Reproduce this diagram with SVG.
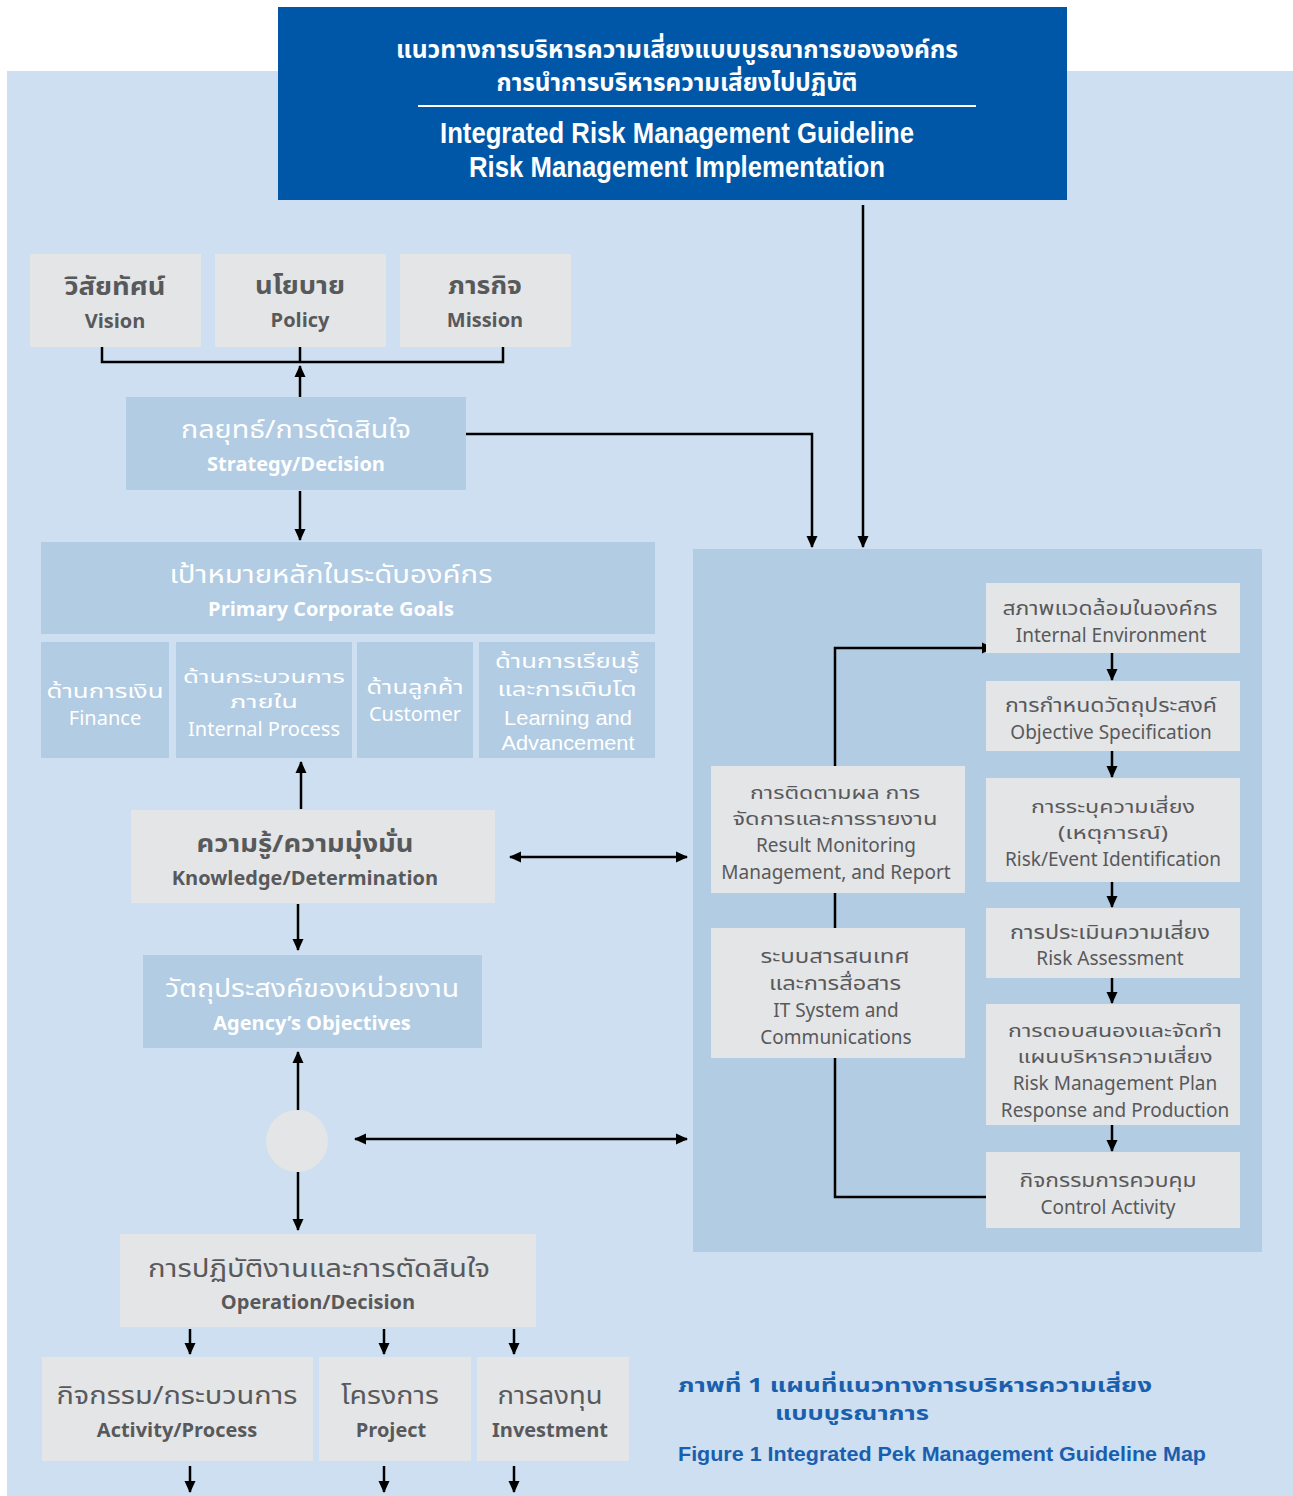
<svg xmlns="http://www.w3.org/2000/svg" width="1293" height="1496" viewBox="0 0 1293 1496">
<defs>
<marker id="ah" viewBox="0 0 12 12" refX="11" refY="6" markerWidth="12" markerHeight="12" markerUnits="userSpaceOnUse" orient="auto-start-reverse">
<path d="M0,0.5 L12,6 L0,11.5 Z" fill="#000"/>
</marker>
<style>
.gray{fill:#e4e5e7}
.blue{fill:#b2cce3}
.t{font-family:"Noto Sans Thai","Noto Sans","DejaVu Sans","Liberation Sans",sans-serif;text-anchor:middle}
.lib{font-family:"Liberation Sans",Arial,sans-serif}
.b{font-weight:bold}
.g{fill:#58595b}
.w{fill:#ffffff}
.s19{font-size:19px}
.th{font-size:19px}
.tt{font-size:17.5px}
.ln{stroke:#000;stroke-width:2.5;fill:none}
.arr{stroke:#000;stroke-width:2.5;fill:none;marker-end:url(#ah)}
.darr{stroke:#000;stroke-width:2.5;fill:none;marker-end:url(#ah);marker-start:url(#ah)}
</style>
</defs>
<rect x="0" y="0" width="1293" height="1496" fill="#ffffff"/>
<rect x="7" y="71" width="1286" height="1425" fill="#cddff0"/>

<g id="header">
<rect x="278" y="7" width="789" height="193" fill="#0057a8"/>
<text class="t b w" x="677" y="58" font-size="24" textLength="562" lengthAdjust="spacingAndGlyphs">แนวทางการบริหารความเสี่ยงแบบบูรณาการขององค์กร</text>
<text class="t b w" x="677" y="91" font-size="24" textLength="361" lengthAdjust="spacingAndGlyphs">การนำการบริหารความเสี่ยงไปปฏิบัติ</text>
<line x1="418" y1="106" x2="976" y2="106" stroke="#ffffff" stroke-width="2"/>
<text class="t lib b w" x="677" y="143" font-size="29" textLength="474" lengthAdjust="spacingAndGlyphs">Integrated Risk Management Guideline</text>
<text class="t lib b w" x="677" y="177" font-size="29" textLength="416" lengthAdjust="spacingAndGlyphs">Risk Management Implementation</text>
</g>

<g id="panel">
<rect x="693" y="549" width="569" height="703" fill="#b2cce3"/>
</g>

<g id="connectors">
<polyline class="ln" points="102,347 102,362 503,362 503,347"/>
<line class="ln" x1="300" y1="347" x2="300" y2="362"/>
<line class="arr" x1="300" y1="397" x2="300" y2="366"/>
<polyline class="arr" points="466,434 812,434 812,547"/>
<line class="arr" x1="863" y1="205" x2="863" y2="547"/>
<line class="arr" x1="300" y1="491" x2="300" y2="540"/>
<line class="arr" x1="301" y1="809" x2="301" y2="762"/>
<line class="darr" x1="510" y1="857" x2="687" y2="857"/>
<line class="arr" x1="298" y1="904" x2="298" y2="950"/>
<line class="arr" x1="298" y1="1110" x2="298" y2="1052"/>
<line class="darr" x1="355" y1="1139" x2="687" y2="1139"/>
<line class="arr" x1="298" y1="1172" x2="298" y2="1230"/>
<line class="arr" x1="190" y1="1329" x2="190" y2="1354"/>
<line class="arr" x1="384" y1="1329" x2="384" y2="1354"/>
<line class="arr" x1="514" y1="1329" x2="514" y2="1354"/>
<line class="arr" x1="190" y1="1466" x2="190" y2="1492"/>
<line class="arr" x1="384" y1="1466" x2="384" y2="1492"/>
<line class="arr" x1="514" y1="1466" x2="514" y2="1492"/>
<polyline class="arr" points="986,1197 835,1197 835,648 993,648"/>
<line class="arr" x1="1112" y1="653" x2="1112" y2="680"/>
<line class="arr" x1="1112" y1="751" x2="1112" y2="777"/>
<line class="arr" x1="1112" y1="882" x2="1112" y2="907"/>
<line class="arr" x1="1112" y1="978" x2="1112" y2="1003"/>
<line class="arr" x1="1112" y1="1125" x2="1112" y2="1151"/>
</g>

<g id="vision">
<rect class="gray" x="30" y="254" width="171" height="93"/>
<text class="t b g" x="115" y="295" font-size="24" textLength="101" lengthAdjust="spacingAndGlyphs">วิสัยทัศน์</text>
<text class="t b g" x="115" y="328" font-size="20">Vision</text>
</g>
<g id="policy">
<rect class="gray" x="215" y="254" width="171" height="93"/>
<text class="t b g" x="300" y="294" font-size="24" textLength="90" lengthAdjust="spacingAndGlyphs">นโยบาย</text>
<text class="t b g" x="300" y="327" font-size="20">Policy</text>
</g>
<g id="mission">
<rect class="gray" x="400" y="254" width="171" height="93"/>
<text class="t b g" x="485" y="294" font-size="24" textLength="74" lengthAdjust="spacingAndGlyphs">ภารกิจ</text>
<text class="t b g" x="485" y="327" font-size="20">Mission</text>
</g>

<g id="strategy">
<rect class="blue" x="126" y="397" width="340" height="93"/>
<text class="t w" x="296" y="438" font-size="25" textLength="230" lengthAdjust="spacingAndGlyphs">กลยุทธ์/การตัดสินใจ</text>
<text class="t b w" x="296" y="471" font-size="20">Strategy/Decision</text>
</g>

<g id="goals">
<rect class="blue" x="41" y="542" width="614" height="92"/>
<text class="t w" x="331" y="583" font-size="25" textLength="323" lengthAdjust="spacingAndGlyphs">เป้าหมายหลักในระดับองค์กร</text>
<text class="t b w" x="331" y="616" font-size="20">Primary Corporate Goals</text>
</g>
<g id="finance">
<rect class="blue" x="41" y="642" width="128" height="116"/>
<text class="t w" x="105" y="698" font-size="20" textLength="117" lengthAdjust="spacingAndGlyphs">ด้านการเงิน</text>
<text class="t w" x="105" y="725" font-size="20">Finance</text>
</g>
<g id="internal-process">
<rect class="blue" x="176" y="642" width="176" height="116"/>
<text class="t w tt" x="264" y="683" textLength="162" lengthAdjust="spacingAndGlyphs">ด้านกระบวนการ</text>
<text class="t w tt" x="264" y="708" textLength="68" lengthAdjust="spacingAndGlyphs">ภายใน</text>
<text class="t w" x="264" y="736" font-size="20">Internal Process</text>
</g>
<g id="customer">
<rect class="blue" x="357" y="642" width="116" height="116"/>
<text class="t w" x="415" y="694" font-size="20" textLength="97" lengthAdjust="spacingAndGlyphs">ด้านลูกค้า</text>
<text class="t w" x="415" y="721" font-size="20">Customer</text>
</g>
<g id="learning">
<rect class="blue" x="479" y="642" width="176" height="116"/>
<text class="t w" x="567" y="668" font-size="19" textLength="144" lengthAdjust="spacingAndGlyphs">ด้านการเรียนรู้</text>
<text class="t w" x="567" y="696" font-size="19" textLength="139" lengthAdjust="spacingAndGlyphs">และการเติบโต</text>
<text class="t lib w" x="568" y="725" font-size="20" textLength="128" lengthAdjust="spacingAndGlyphs">Learning and</text>
<text class="t lib w" x="568" y="750" font-size="20" textLength="133" lengthAdjust="spacingAndGlyphs">Advancement</text>
</g>

<g id="knowledge">
<rect class="gray" x="131" y="810" width="364" height="93"/>
<text class="t b g" x="305" y="852" font-size="24" textLength="217" lengthAdjust="spacingAndGlyphs">ความรู้/ความมุ่งมั่น</text>
<text class="t b g" x="305" y="885" font-size="20">Knowledge/Determination</text>
</g>

<g id="agency">
<rect class="blue" x="143" y="955" width="339" height="93"/>
<text class="t w" x="312" y="997" font-size="25" textLength="294" lengthAdjust="spacingAndGlyphs">วัตถุประสงค์ของหน่วยงาน</text>
<text class="t b w" x="312" y="1030" font-size="20">Agency’s Objectives</text>
</g>

<g id="circle">
<circle cx="297" cy="1141" r="31" fill="#e4e5e7"/>
</g>

<g id="operation">
<rect class="gray" x="120" y="1234" width="416" height="93"/>
<text class="t g" x="319" y="1277" font-size="25" textLength="342" lengthAdjust="spacingAndGlyphs">การปฏิบัติงานและการตัดสินใจ</text>
<text class="t b g" x="318" y="1309" font-size="20">Operation/Decision</text>
</g>

<g id="activity">
<rect class="gray" x="42" y="1357" width="271" height="104"/>
<text class="t g" x="177" y="1404" font-size="25" textLength="241" lengthAdjust="spacingAndGlyphs">กิจกรรม/กระบวนการ</text>
<text class="t b g" x="177" y="1437" font-size="20">Activity/Process</text>
</g>
<g id="project">
<rect class="gray" x="319" y="1357" width="152" height="104"/>
<text class="t g" x="390" y="1404" font-size="25" textLength="98" lengthAdjust="spacingAndGlyphs">โครงการ</text>
<text class="t b g" x="391" y="1437" font-size="20">Project</text>
</g>
<g id="investment">
<rect class="gray" x="477" y="1357" width="152" height="104"/>
<text class="t g" x="550" y="1404" font-size="25" textLength="105" lengthAdjust="spacingAndGlyphs">การลงทุน</text>
<text class="t b g" x="550" y="1437" font-size="20">Investment</text>
</g>

<g id="result-monitoring">
<rect class="gray" x="711" y="766" width="254" height="127"/>
<text class="t g tt" x="835" y="799" textLength="170" lengthAdjust="spacingAndGlyphs">การติดตามผล การ</text>
<text class="t g tt" x="835" y="825" textLength="205" lengthAdjust="spacingAndGlyphs">จัดการและการรายงาน</text>
<text class="t g s19" x="836" y="852">Result Monitoring</text>
<text class="t g s19" x="836" y="879">Management, and Report</text>
</g>
<g id="it-system">
<rect class="gray" x="711" y="928" width="254" height="130"/>
<text class="t g th" x="835" y="963" textLength="149" lengthAdjust="spacingAndGlyphs">ระบบสารสนเทศ</text>
<text class="t g th" x="835" y="990" textLength="132" lengthAdjust="spacingAndGlyphs">และการสื่อสาร</text>
<text class="t g s19" x="836" y="1017">IT System and</text>
<text class="t g s19" x="836" y="1044">Communications</text>
</g>

<g id="internal-environment">
<rect class="gray" x="986" y="583" width="254" height="70"/>
<text class="t g th" x="1110" y="615" textLength="215" lengthAdjust="spacingAndGlyphs">สภาพแวดล้อมในองค์กร</text>
<text class="t g s19" x="1111" y="642">Internal Environment</text>
</g>
<g id="objective-specification">
<rect class="gray" x="986" y="681" width="254" height="70"/>
<text class="t g th" x="1111" y="712" textLength="212" lengthAdjust="spacingAndGlyphs">การกำหนดวัตถุประสงค์</text>
<text class="t g s19" x="1111" y="739">Objective Specification</text>
</g>
<g id="risk-identification">
<rect class="gray" x="986" y="778" width="254" height="104"/>
<text class="t g tt" x="1113" y="813" textLength="164" lengthAdjust="spacingAndGlyphs">การระบุความเสี่ยง</text>
<text class="t g tt" x="1113" y="839" textLength="110" lengthAdjust="spacingAndGlyphs">(เหตุการณ์)</text>
<text class="t g s19" x="1113" y="866">Risk/Event Identification</text>
</g>
<g id="risk-assessment">
<rect class="gray" x="986" y="908" width="254" height="70"/>
<text class="t g th" x="1110" y="939" textLength="200" lengthAdjust="spacingAndGlyphs">การประเมินความเสี่ยง</text>
<text class="t g s19" x="1110" y="965">Risk Assessment</text>
</g>
<g id="response">
<rect class="gray" x="986" y="1004" width="254" height="121"/>
<text class="t g tt" x="1115" y="1037" textLength="214" lengthAdjust="spacingAndGlyphs">การตอบสนองและจัดทำ</text>
<text class="t g tt" x="1115" y="1063" textLength="195" lengthAdjust="spacingAndGlyphs">แผนบริหารความเสี่ยง</text>
<text class="t g s19" x="1115" y="1090">Risk Management Plan</text>
<text class="t g s19" x="1115" y="1117">Response and Production</text>
</g>
<g id="control-activity">
<rect class="gray" x="986" y="1152" width="254" height="76"/>
<text class="t g th" x="1108" y="1187" textLength="177" lengthAdjust="spacingAndGlyphs">กิจกรรมการควบคุม</text>
<text class="t g s19" x="1108" y="1214">Control Activity</text>
</g>

<g id="caption">
<text font-family="'Noto Sans Thai','Noto Sans','DejaVu Sans','Liberation Sans',sans-serif" font-weight="bold" font-size="20" fill="#1a5fae" x="678" y="1392" textLength="474" lengthAdjust="spacingAndGlyphs">ภาพที่ 1 แผนที่แนวทางการบริหารความเสี่ยง</text>
<text font-family="'Noto Sans Thai','Noto Sans','DejaVu Sans','Liberation Sans',sans-serif" font-weight="bold" font-size="20" fill="#1a5fae" x="775" y="1420" textLength="154" lengthAdjust="spacingAndGlyphs">แบบบูรณาการ</text>
<text font-family="'Liberation Sans',sans-serif" font-weight="bold" font-size="21" fill="#1a5fae" x="678" y="1461" textLength="528" lengthAdjust="spacingAndGlyphs">Figure 1 Integrated Pek Management Guideline Map</text>
</g>
</svg>
